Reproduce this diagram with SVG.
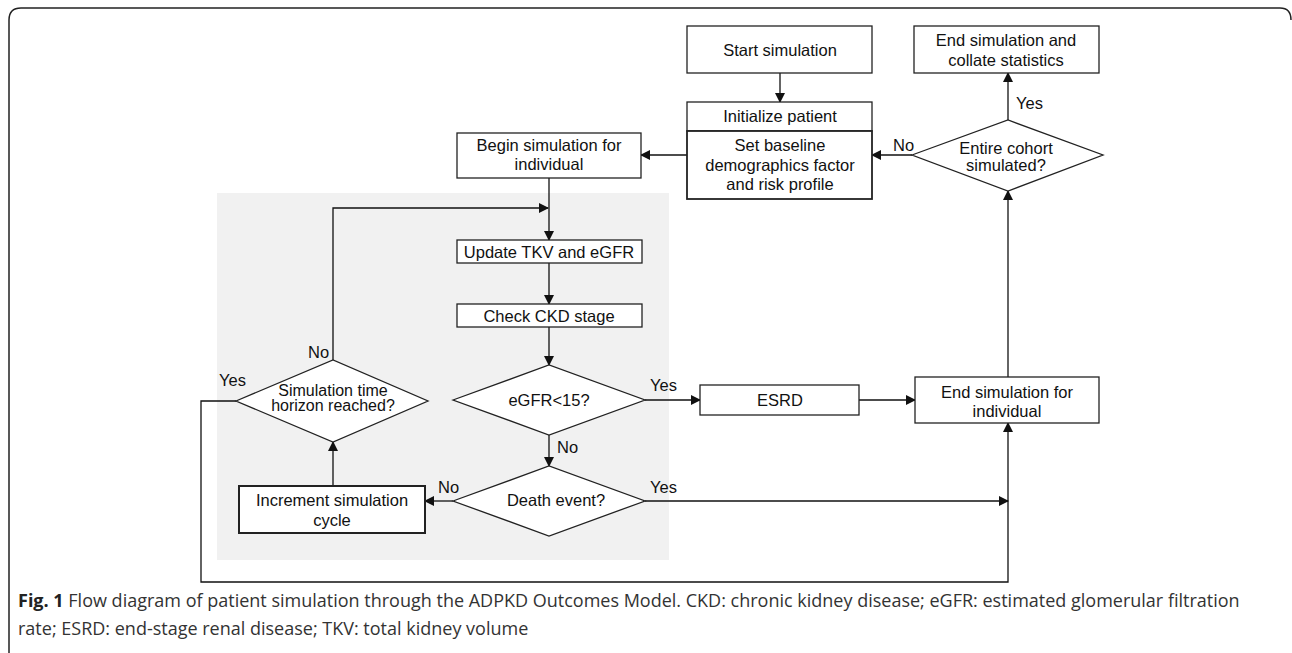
<svg xmlns="http://www.w3.org/2000/svg" width="1292" height="653" viewBox="0 0 1292 653">
<defs>
<marker id="ah" markerWidth="10" markerHeight="10" refX="9" refY="5" orient="auto" markerUnits="userSpaceOnUse">
<path d="M0,0 L10,5 L0,10 z" fill="#111"/>
</marker>
<style>
.box{fill:#fff;stroke:#222;stroke-width:1.3}
.thick{fill:#fff;stroke:#222;stroke-width:2}
.t{font-family:"Liberation Sans",Arial,sans-serif;font-size:16.5px;fill:#111;text-anchor:middle}
.lbl{font-family:"Liberation Sans",Arial,sans-serif;font-size:16.5px;fill:#111}
.c{fill:none;stroke:#111;stroke-width:1.3}
.cap{font-family:"Open Sans","Noto Sans",sans-serif;font-size:18px;fill:#333}
</style>
</defs>
<rect width="1292" height="653" fill="#fff"/>
<path d="M9,653 V20 Q9,8 21,8 H1280 Q1291,8 1291,20" fill="none" stroke="#222" stroke-width="1.5"/>
<rect x="217" y="193" width="452" height="367" fill="#f1f1f1"/>

<g id="connectors">
<line class="c" x1="780" y1="73" x2="780" y2="102" marker-end="url(#ah)"/>
<line class="c" x1="687" y1="155" x2="641" y2="155" marker-end="url(#ah)"/>
<line class="c" x1="912" y1="155" x2="872" y2="155" marker-end="url(#ah)"/>
<line class="c" x1="1008" y1="120" x2="1008" y2="73" marker-end="url(#ah)"/>
<line class="c" x1="1008" y1="377" x2="1008" y2="191" marker-end="url(#ah)"/>
<line class="c" x1="549" y1="178" x2="549" y2="240" marker-end="url(#ah)"/>
<polyline class="c" points="333,360 333,208 548,208" marker-end="url(#ah)"/>
<line class="c" x1="549" y1="263" x2="549" y2="304" marker-end="url(#ah)"/>
<line class="c" x1="549" y1="327" x2="549" y2="365" marker-end="url(#ah)"/>
<line class="c" x1="549" y1="435" x2="549" y2="466" marker-end="url(#ah)"/>
<line class="c" x1="645" y1="400" x2="700" y2="400" marker-end="url(#ah)"/>
<line class="c" x1="859" y1="400" x2="915" y2="400" marker-end="url(#ah)"/>
<line class="c" x1="453" y1="501" x2="425" y2="501" marker-end="url(#ah)"/>
<line class="c" x1="645" y1="501" x2="1008" y2="501" marker-end="url(#ah)"/>
<line class="c" x1="333" y1="486" x2="333" y2="442" marker-end="url(#ah)"/>
<polyline class="c" points="236,401 201,401 201,582 1008,582 1008,423" marker-end="url(#ah)"/>
<text class="lbl" x="893" y="151">No</text>
<text class="lbl" x="1016" y="109">Yes</text>
<text class="lbl" x="308" y="358">No</text>
<text class="lbl" x="219" y="386">Yes</text>
<text class="lbl" x="650" y="391">Yes</text>
<text class="lbl" x="557" y="453">No</text>
<text class="lbl" x="438" y="493">No</text>
<text class="lbl" x="650" y="493">Yes</text>
</g>

<g id="start">
<rect class="box" x="687" y="26" width="185" height="47"/>
<text class="t" x="780" y="56">Start simulation</text>
</g>
<g id="init">
<rect class="box" x="687" y="102" width="185" height="29"/>
<text class="t" x="780" y="122">Initialize patient</text>
<rect class="box" x="687" y="131" width="185" height="68" style="stroke-width:1.8"/>
<text class="t" x="780" y="151">Set baseline</text>
<text class="t" x="780" y="171">demographics factor</text>
<text class="t" x="780" y="190">and risk profile</text>
</g>
<g id="begin">
<rect class="box" x="457" y="133" width="184" height="45"/>
<text class="t" x="549" y="151">Begin simulation for</text>
<text class="t" x="549" y="170">individual</text>
</g>
<g id="endall">
<rect class="box" x="914" y="26" width="185" height="47"/>
<text class="t" x="1006" y="46">End simulation and</text>
<text class="t" x="1006" y="66">collate statistics</text>
</g>
<g id="cohort">
<polygon class="box" points="912,155 1008,120 1103,155 1008,191"/>
<text class="t" x="1006" y="154">Entire cohort</text>
<text class="t" x="1006" y="171">simulated?</text>
</g>
<g id="update">
<rect class="box" x="457" y="240" width="185" height="23"/>
<text class="t" x="549" y="258">Update TKV and eGFR</text>
</g>
<g id="check">
<rect class="box" x="457" y="304" width="185" height="23"/>
<text class="t" x="549" y="322">Check CKD stage</text>
</g>
<g id="egfr">
<polygon class="box" points="453,400 549,365 645,400 549,435"/>
<text class="t" x="549" y="406">eGFR&lt;15?</text>
</g>
<g id="horizon">
<polygon class="box" points="236,401 333,360 428,401 333,442"/>
<text class="t" x="333" y="396" style="font-size:16px">Simulation time</text>
<text class="t" x="333" y="411" style="font-size:16px">horizon reached?</text>
</g>
<g id="death">
<polygon class="box" points="453,501 549,466 645,501 549,536"/>
<text class="t" x="556" y="506">Death event?</text>
</g>
<g id="increment">
<rect class="thick" x="239" y="486" width="186" height="47"/>
<text class="t" x="332" y="506">Increment simulation</text>
<text class="t" x="332" y="526">cycle</text>
</g>
<g id="esrd">
<rect class="box" x="700" y="385" width="159" height="30"/>
<text class="t" x="780" y="406">ESRD</text>
</g>
<g id="endind">
<rect class="box" x="915" y="377" width="184" height="46"/>
<text class="t" x="1007" y="398">End simulation for</text>
<text class="t" x="1007" y="417">individual</text>
</g>

<text class="cap" x="18" y="607"><tspan font-weight="bold" fill="#222">Fig. 1</tspan> Flow diagram of patient simulation through the ADPKD Outcomes Model. CKD: chronic kidney disease; eGFR: estimated glomerular filtration</text>
<text class="cap" x="18" y="635">rate; ESRD: end-stage renal disease; TKV: total kidney volume</text>
</svg>
